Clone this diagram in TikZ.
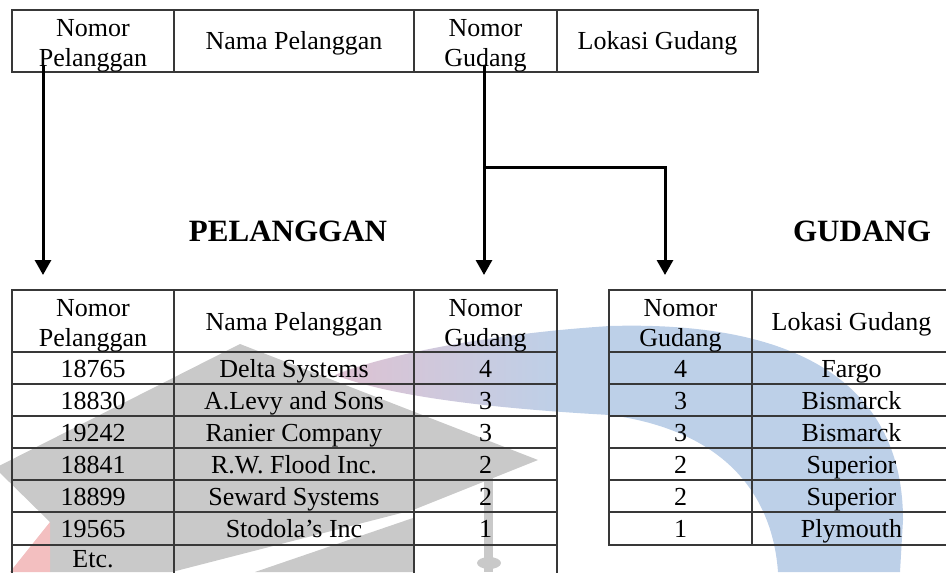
\documentclass[tikz,border=0pt]{standalone}
\usepackage{fontspec}
\setmainfont{Liberation Serif}
\usetikzlibrary{arrows.meta}

\definecolor{rule}{HTML}{383838}
\definecolor{wmgray}{HTML}{C9C9C9}
\definecolor{wmred}{HTML}{F3BFC0}
\definecolor{wmpink}{HTML}{DEC2D2}
\definecolor{wmblue}{HTML}{BDD0E8}
\pgfdeclarehorizontalshading{wmswoosh}{100bp}{color(0bp)=(wmpink); color(25bp)=(wmpink); color(45bp)=(wmblue); color(100bp)=(wmblue)}

\begin{document}
\begin{tikzpicture}[x=0.5pt,y=-0.5pt,
  grid/.style={draw=rule,line width=1pt},
  cell/.style={inner sep=0pt,font=\fontsize{13}{15}\selectfont,anchor=base},
  head/.style={inner sep=0pt,font=\fontsize{13}{15}\selectfont,align=center},
  title/.style={inner sep=0pt,font=\fontsize{15.5}{18}\selectfont\bfseries,anchor=base},
  link/.style={line width=1.5pt,line join=miter,-{Triangle[width=8pt,length=7.5pt]}}]

\useasboundingbox (0,0) rectangle (946,572);

% --- background logo ---
\fill[wmgray] (240,344) -- (538,460) -- (413,510) -- (172,572) -- (50,572) -- (50,522) -- (-5,468) -- cycle;
\fill[wmgray] (413,518) -- (413,572) -- (255,572) -- cycle;
\fill[wmgray] (484,477) rectangle (493,572);
\fill[wmgray] (489,563) ellipse [x radius=12, y radius=6];
\fill[wmred] (50,522) -- (50,572) -- (10,572) -- cycle;
\shade[shading=wmswoosh] (335,375) .. controls (370,360) and (470,335) .. (610,326)
  .. controls (820,320) and (903,400) .. (903,520) -- (900,572) -- (778,572)
  .. controls (772,490) and (720,430) .. (610,415)
  .. controls (520,410) and (400,400) .. (335,375) -- cycle;

% --- combined record layout ---
\draw[grid] (12,10) rectangle (758,72);
\foreach \x in {174,414,557} \draw[grid] (\x,10) -- (\x,72);
\node[head] (th-np)   at (93,46)    {Nomor\\Pelanggan};
\node[cell] (th-nama) at (294,50)   {Nama Pelanggan};
\node[head] (th-ng)   at (485.5,46) {Nomor\\Gudang};
\node[cell] (th-lok)  at (657.5,50) {Lokasi Gudang};

% --- titles ---
\node[title] (t-pel) at (288,242) {PELANGGAN};
\node[title] (t-gud) at (862,242) {GUDANG};

% --- PELANGGAN table ---
\draw[grid] (12,290) rectangle (557,600);
\foreach \x in {174,414} \draw[grid] (\x,290) -- (\x,600);
\foreach \y in {352,384,416,448,480,512,545} \draw[grid] (12,\y) -- (557,\y);
\node[head] (ph-np)   at (93,326)    {Nomor\\Pelanggan};
\node[cell] (ph-nama) at (294,330)   {Nama Pelanggan};
\node[head] (ph-ng)   at (485.5,326) {Nomor\\Gudang};
\foreach \no/\nama/\gd [count=\i] in {18765/Delta Systems/4, 18830/A.Levy and Sons/3,
    19242/Ranier Company/3, 18841/R.W. Flood Inc./2, 18899/Seward Systems/2, 19565/Stodola’s Inc/1} {
  \node[cell] (p-no-\i) at (93,{345+32*\i})    {\no};
  \node[cell] (p-nm-\i) at (294,{345+32*\i})   {\nama};
  \node[cell] (p-gd-\i) at (485.5,{345+32*\i}) {\gd};
}
\node[cell] (p-etc) at (93,567) {Etc.};

% --- GUDANG table ---
\draw[grid] (609,290) rectangle (960,545);
\draw[grid] (752,290) -- (752,545);
\foreach \y in {352,384,416,448,480,512} \draw[grid] (609,\y) -- (960,\y);
\node[head] (gh-ng)  at (680.5,326) {Nomor\\Gudang};
\node[cell] (gh-lok) at (851.5,330) {Lokasi Gudang};
\foreach \gd/\lok [count=\i] in {4/Fargo, 3/Bismarck, 3/Bismarck, 2/Superior, 2/Superior, 1/Plymouth} {
  \node[cell] (g-gd-\i)  at (680.5,{345+32*\i}) {\gd};
  \node[cell] (g-lok-\i) at (851.5,{345+32*\i}) {\lok};
}

% --- key flows ---
\coordinate (np-src)  at (43,65);
\coordinate (np-dst)  at (43,275);
\coordinate (ng-src)  at (484,65);
\coordinate (ng-fork) at (484,168);
\coordinate (ng-dst)  at (484,275);
\coordinate (gg-dst)  at (665,275);
\draw[link] (np-src) -- (np-dst);
\draw[link] (ng-src) -- (ng-dst);
\draw[link] (ng-fork) -| (gg-dst);
\end{tikzpicture}
\end{document}
